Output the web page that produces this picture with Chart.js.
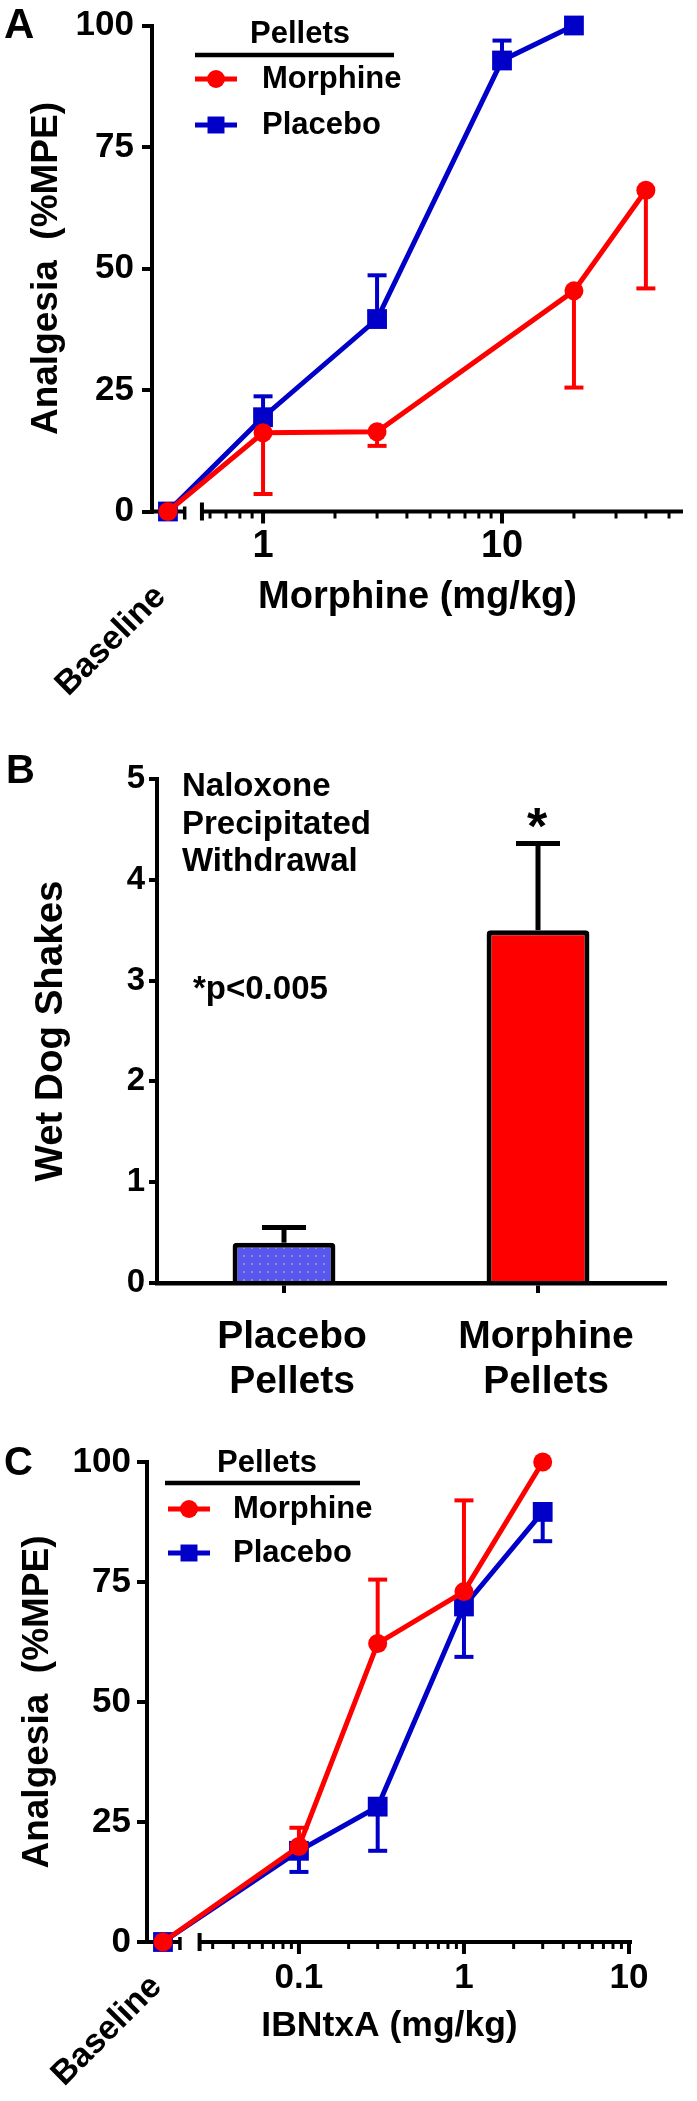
<!DOCTYPE html>
<html><head><meta charset="utf-8">
<script src="https://cdn.jsdelivr.net/npm/chart.js@4.4.1/dist/chart.umd.min.js"></script>
<style>
html,body{margin:0;padding:0;background:#fff;}
body{width:697px;height:2101px;position:relative;overflow:hidden;}
canvas{position:absolute;left:0;display:block;}
</style></head><body>
<canvas id="cA" width="697" height="700" style="top:0;width:697px;height:700px"></canvas>
<canvas id="cB" width="697" height="720" style="top:700px;width:697px;height:720px"></canvas>
<canvas id="cC" width="697" height="681" style="top:1420px;width:697px;height:681px"></canvas>
<script>
// ---------------- DATA ----------------
// Panel A : morphine dose-response (%MPE)
const aMorphineDose = ['Baseline', 1, 3, 20, 40];
const aMorphineMPE  = [0, 16.2, 16.4, 45.4, 66.1];
const aMorphineErr  = [0, 12.6, 2.9, 19.9, 20.2];   // SEM shown downward
const aPlaceboDose  = ['Baseline', 1, 3, 10, 20];
const aPlaceboMPE   = [0, 19.4, 39.6, 92.8, 100];
const aPlaceboErr   = [0, 4.3, 9.0, 4.1, 0];        // SEM shown upward
const aYTicks  = [0, 25, 50, 75, 100];
const aXMajor  = [1, 10];
const aXMinor  = [0.6, 0.7, 0.8, 0.9, 2, 3, 4, 5, 6, 7, 8, 9, 20, 30, 40, 50];

// Panel B : wet dog shakes
const bCategories = [['Placebo', 'Pellets'], ['Morphine', 'Pellets']];
const bShakes = [0.4, 3.5];
const bErr    = [0.15, 0.86];
const bYTicks = [0, 1, 2, 3, 4, 5];

// Panel C : IBNtxA dose-response (%MPE)
const cMorphineDose = ['Baseline', 0.1, 0.3, 1, 3];
const cMorphineMPE  = [0, 19.9, 62.2, 73.0, 100];
const cMorphineErr  = [0, 3.9, 13.3, 19.0, 0];      // SEM shown upward
const cPlaceboDose  = ['Baseline', 0.1, 0.3, 1, 3];
const cPlaceboMPE   = [0, 19.0, 28.2, 69.9, 89.6];
const cPlaceboErr   = [0, 4.4, 9.2, 10.5, 6.1];     // SEM shown downward
const cYTicks  = [0, 25, 50, 75, 100];
const cXMajor  = [0.1, 1, 10];
const cXMinor  = [0.03, 0.04, 0.05, 0.06, 0.07, 0.08, 0.09, 0.2, 0.3, 0.4, 0.5, 0.6, 0.7, 0.8, 0.9, 2, 3, 4, 5, 6, 7, 8, 9];

// ---------------- STYLE / HELPERS ----------------
const FONT = "'Liberation Sans', Arial, Helvetica, sans-serif";
const RED = '#ff0000', BLUE = '#0000c8';

function seg(ctx, x1, y1, x2, y2, w) {
  ctx.lineWidth = w; ctx.beginPath(); ctx.moveTo(x1, y1); ctx.lineTo(x2, y2); ctx.stroke();
}
function marker(ctx, style, x, y, r, color) {
  ctx.fillStyle = color; ctx.beginPath();
  if (style === 'rect') { const h = r * Math.SQRT1_2; ctx.rect(x - h, y - h, 2 * h, 2 * h); }
  else ctx.arc(x, y, r, 0, Math.PI * 2);
  ctx.fill();
}
function texts(items) {
  return { id: 'texts', afterDraw(chart) {
    const ctx = chart.ctx;
    items.forEach(t => {
      ctx.save();
      ctx.font = 'bold ' + t.size + 'px ' + FONT;
      ctx.fillStyle = '#000';
      ctx.textAlign = t.align || 'left';
      ctx.textBaseline = t.baseline || 'middle';
      ctx.translate(t.x, t.y);
      if (t.rot) ctx.rotate(t.rot * Math.PI / 180);
      ctx.fillText(t.text, 0, 0);
      ctx.restore();
    });
  }};
}
function errorBars(cap, w) {
  return { id: 'errorBars', beforeDatasetsDraw(chart) {
    const ctx = chart.ctx, ys = chart.scales.y;
    ctx.save(); ctx.lineCap = 'butt';
    chart.data.datasets.forEach((ds, di) => {
      const meta = chart.getDatasetMeta(di);
      (ds.err || []).forEach((e, i) => {
        if (!e) return;
        const v = typeof ds.data[i] === 'object' ? ds.data[i].y : ds.data[i];
        const x = meta.data[i].x;
        const y1 = ys.getPixelForValue(v), y2 = ys.getPixelForValue(v + ds.errDir * e);
        ctx.strokeStyle = ds.errColor || ds.borderColor;
        seg(ctx, x, y1, x, y2, w);
        seg(ctx, x - cap / 2, y2, x + cap / 2, y2, w);
      });
    });
    ctx.restore();
  }};
}
function brokenAxis(o) {
  return { id: 'brokenAxis', beforeDatasetsDraw(chart) {
    const ctx = chart.ctx, xs = chart.scales.x, ca = chart.chartArea;
    const y0 = chart.scales.y.getPixelForValue(0);
    const px = v => xs.getPixelForValue(v);
    ctx.save(); ctx.strokeStyle = '#000'; ctx.lineCap = 'butt';
    seg(ctx, ca.left, y0, px(o.breakAt[0]), y0, 4);
    seg(ctx, px(o.breakAt[0]), y0 - 5, px(o.breakAt[0]), y0 + 8, 3.5);
    seg(ctx, px(o.breakAt[1]), y0 - 9, px(o.breakAt[1]), y0 + 9, 4);
    seg(ctx, px(o.breakAt[1]), y0, ca.right, y0, 4);
    o.minor.forEach(v => seg(ctx, px(v), y0, px(v), y0 + 7, 3));
    o.major.forEach(v => seg(ctx, px(v), y0, px(v), y0 + 12, 4));
    ctx.restore();
  }};
}
function legendBlock(L) {
  return { id: 'legendBlock', afterDatasetsDraw(chart) {
    const ctx = chart.ctx;
    ctx.save();
    ctx.font = 'bold ' + L.size + 'px ' + FONT;
    ctx.fillStyle = '#000'; ctx.textAlign = 'center'; ctx.textBaseline = 'middle';
    ctx.fillText(L.title, L.titleX, L.titleY);
    ctx.strokeStyle = '#000'; seg(ctx, L.ruleX[0], L.ruleY, L.ruleX[1], L.ruleY, 4.5);
    chart.data.datasets.forEach((ds, i) => {
      const y = L.rowY[i];
      ctx.strokeStyle = ds.borderColor;
      seg(ctx, L.markX[0], y, L.markX[1], y, 5);
      marker(ctx, ds.pointStyle, (L.markX[0] + L.markX[1]) / 2, y, ds.pointStyle === 'rect' ? 12 : 9, ds.borderColor);
      ctx.fillStyle = '#000'; ctx.textAlign = 'left';
      ctx.fillText(ds.label, L.textX, y);
    });
    ctx.restore();
  }};
}

function doseChart(id, o) {
  const toX = d => (d === 'Baseline' ? o.baselineAt : d);
  const datasets = o.series.map(s => ({
    label: s.name,
    data: s.dose.map((d, i) => ({ x: toX(d), y: s.mpe[i] })),
    err: s.err, errDir: s.dir,
    borderColor: s.color, backgroundColor: s.color,
    borderWidth: 5,
    pointStyle: s.style, pointRadius: s.radius, pointHoverRadius: s.radius,
    pointBorderWidth: 0, pointBackgroundColor: s.color,
    tension: 0, clip: false
  }));
  const allTicks = o.minor.concat(o.major).sort((a, b) => a - b);
  return new Chart(document.getElementById(id), {
    type: 'line',
    data: { datasets },
    options: {
      responsive: false, animation: false, events: [],
      layout: { padding: o.padding },
      plugins: { legend: { display: false }, tooltip: { enabled: false } },
      scales: {
        x: {
          type: 'logarithmic', min: o.xMin, max: o.xMax, bounds: 'data',
          afterBuildTicks: s => { s.ticks = allTicks.map(v => ({ value: v })); },
          afterFit: s => { s.height = o.xHeight; },
          border: { display: false },
          grid: { display: false, drawTicks: false },
          ticks: { autoSkip: false, maxRotation: 0, minRotation: 0, padding: o.xTickPad, color: '#000',
                   font: { family: FONT, weight: 'bold', size: o.xTickSize, lineHeight: 1 },
                   callback: v => (o.major.indexOf(v) >= 0 ? String(v) : '') },
          title: { display: true, text: o.xTitle, color: '#000', padding: { top: 0, bottom: o.xTitlePad },
                   font: { family: FONT, weight: 'bold', size: o.xTitleSize, lineHeight: 1 } }
        },
        y: {
          min: 0, max: 100,
          afterBuildTicks: s => { s.ticks = o.yTicks.map(v => ({ value: v })); },
          afterFit: s => { s.width = o.yWidth; },
          border: { display: true, color: '#000', width: 4 },
          grid: { drawOnChartArea: false, drawTicks: true, tickLength: 10, color: '#000', lineWidth: 4 },
          ticks: { padding: o.yTickPad, color: '#000', font: { family: FONT, weight: 'bold', size: 35, lineHeight: 1 } },
          title: { display: true, text: 'Analgesia  (%MPE)', color: '#000', padding: { top: o.yTitlePad, bottom: 0 },
                   font: { family: FONT, weight: 'bold', size: 37, lineHeight: 1.2 } }
        }
      }
    },
    plugins: [brokenAxis(o), errorBars(19, 4), legendBlock(o.legend), texts(o.texts)]
  });
}

// ---------------- PANEL A ----------------
doseChart('cA', {
  series: [
    { name: 'Morphine', dose: aMorphineDose, mpe: aMorphineMPE, err: aMorphineErr, dir: -1, color: RED, style: 'circle', radius: 9.5 },
    { name: 'Placebo',  dose: aPlaceboDose,  mpe: aPlaceboMPE,  err: aPlaceboErr,  dir: 1,  color: BLUE, style: 'rect', radius: 14 }
  ],
  baselineAt: 0.4, breakAt: [0.47, 0.555], xMin: 0.343, xMax: 57.2,
  major: aXMajor, minor: aXMinor, yTicks: aYTicks,
  padding: { left: 0, top: 21, right: 5, bottom: 78.5 },
  xHeight: 110, xTickPad: 16.5, xTickSize: 38, xTitle: 'Morphine (mg/kg)', xTitleSize: 38, xTitlePad: 4.5,
  yWidth: 152, yTickPad: 8, yTitlePad: 25,
  legend: { title: 'Pellets', size: 31, titleX: 300, titleY: 34, ruleX: [195, 394], ruleY: 55,
            rowY: [79, 125], markX: [195, 237], textX: 262 },
  texts: [
    { text: 'A', x: 4, y: 38, size: 42, baseline: 'alphabetic' },
    { text: 'Baseline', x: 111, y: 641, size: 34, align: 'center', rot: -45 }
  ]
});

// ---------------- PANEL B ----------------
(function () {
  const cv = document.getElementById('cB');
  const tile = document.createElement('canvas'); tile.width = 8; tile.height = 8;
  const g = tile.getContext('2d');
  g.fillStyle = '#5757ef'; g.fillRect(0, 0, 8, 8);
  g.fillStyle = '#8d8dc6'; g.fillRect(3, 3, 2, 2);
  const pattern = cv.getContext('2d').createPattern(tile, 'repeat');
  new Chart(cv, {
    type: 'bar',
    data: { labels: bCategories, datasets: [{
      data: bShakes, err: bErr, errDir: 1, errColor: '#000',
      backgroundColor: [pattern, '#ff0000'], borderColor: '#000', borderWidth: 5,
      borderSkipped: 'start', borderRadius: { topLeft: 4, topRight: 4, bottomLeft: 0, bottomRight: 0 },
      barPercentage: 0.405, categoryPercentage: 1
    }]},
    options: {
      responsive: false, animation: false, events: [],
      layout: { padding: { left: 0, top: 79, right: 32, bottom: 12 } },
      plugins: { legend: { display: false }, tooltip: { enabled: false } },
      scales: {
        x: {
          afterFit: s => { s.height = 125; },
          border: { display: true, color: '#000', width: 4.5, z: 1 },
          grid: { display: true, offset: false, drawOnChartArea: false, drawTicks: true, tickLength: 10, color: '#000', lineWidth: 4 },
          ticks: { padding: 22, labelOffset: 8, color: '#000', maxRotation: 0, autoSkip: false,
                   font: { family: FONT, weight: 'bold', size: 39, lineHeight: 1.15 } }
        },
        y: {
          min: 0, max: 5,
          afterBuildTicks: s => { s.ticks = bYTicks.map(v => ({ value: v })); },
          afterFit: s => { s.width = 157; },
          border: { display: true, color: '#000', width: 4 },
          grid: { drawOnChartArea: false, drawTicks: true, tickLength: 8, color: '#000', lineWidth: 4 },
          ticks: { padding: 4, color: '#000', font: { family: FONT, weight: 'bold', size: 33, lineHeight: 1 } },
          title: { display: true, text: 'Wet Dog Shakes', color: '#000', padding: { top: 28, bottom: 0 },
                   font: { family: FONT, weight: 'bold', size: 38.5, lineHeight: 1.2 } }
        }
      }
    },
    plugins: [errorBars(44, 5), texts([
      { text: 'B', x: 6, y: 83, size: 40, baseline: 'alphabetic' },
      { text: 'Naloxone', x: 182, y: 87, size: 33 },
      { text: 'Precipitated', x: 182, y: 125, size: 33 },
      { text: 'Withdrawal', x: 182, y: 162, size: 33 },
      { text: '*p<0.005', x: 193, y: 290, size: 33 },
      { text: '*', x: 537, y: 144, size: 52, align: 'center', baseline: 'alphabetic' }
    ])]
  });
})();

// ---------------- PANEL C ----------------
doseChart('cC', {
  series: [
    { name: 'Morphine', dose: cMorphineDose, mpe: cMorphineMPE, err: cMorphineErr, dir: 1,  color: RED, style: 'circle', radius: 9.5 },
    { name: 'Placebo',  dose: cPlaceboDose,  mpe: cPlaceboMPE,  err: cPlaceboErr,  dir: -1, color: BLUE, style: 'rect', radius: 14 }
  ],
  baselineAt: 0.015, breakAt: [0.019, 0.025], xMin: 0.0120, xMax: 10.43,
  major: cXMajor, minor: cXMinor, yTicks: cYTicks,
  padding: { left: 0, top: 42, right: 65, bottom: 53 },
  xHeight: 106, xTickPad: 18.5, xTickSize: 35, xTitle: 'IBNtxA (mg/kg)', xTitleSize: 35.5, xTitlePad: 4.25,
  yWidth: 147, yTickPad: 6, yTitlePad: 16,
  legend: { title: 'Pellets', size: 31, titleX: 267, titleY: 43, ruleX: [165, 360], ruleY: 63,
            rowY: [89, 133], markX: [168, 210], textX: 233 },
  texts: [
    { text: 'C', x: 4, y: 55, size: 40, baseline: 'alphabetic' },
    { text: 'Baseline', x: 107, y: 611, size: 34, align: 'center', rot: -45 }
  ]
});
</script>
</body></html>
